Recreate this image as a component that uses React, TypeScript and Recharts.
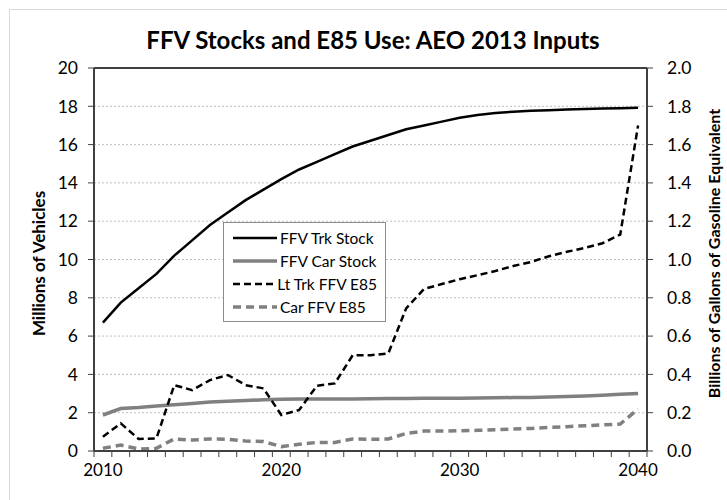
import { LineChart, Line, XAxis, YAxis, CartesianGrid, ReferenceLine, Legend } from 'recharts';

const years = [
    2010, 2011, 2012, 2013, 2014, 2015, 2016, 2017, 2018, 2019,
    2020, 2021, 2022, 2023, 2024, 2025, 2026, 2027, 2028, 2029,
    2030, 2031, 2032, 2033, 2034, 2035, 2036, 2037, 2038, 2039, 2040,
];

// millions of vehicles (left axis)
const trkStock = [
    6.7, 7.75, 8.5, 9.25, 10.2, 11.0, 11.8, 12.45, 13.1, 13.65,
    14.2, 14.7, 15.1, 15.5, 15.9, 16.2, 16.5, 16.8, 17.0, 17.2,
    17.4, 17.55, 17.65, 17.72, 17.77, 17.8, 17.83, 17.86, 17.88, 17.9, 17.92,
];
const carStock = [
    1.88, 2.22, 2.27, 2.35, 2.42, 2.48, 2.56, 2.6, 2.64, 2.67,
    2.7, 2.71, 2.71, 2.72, 2.72, 2.73, 2.74, 2.74, 2.75, 2.75,
    2.76, 2.77, 2.78, 2.79, 2.8, 2.82, 2.84, 2.87, 2.91, 2.96, 3.0,
];

// billions of gallons of gasoline equivalent (right axis)
const trkE85 = [
    0.075, 0.144, 0.063, 0.066, 0.344, 0.318, 0.37, 0.397, 0.344, 0.327,
    0.188, 0.214, 0.341, 0.353, 0.5, 0.5, 0.51, 0.745, 0.846, 0.872,
    0.897, 0.918, 0.94, 0.966, 0.987, 1.017, 1.04, 1.06, 1.085, 1.13, 1.7,
];
const carE85 = [
    0.014, 0.031, 0.01, 0.014, 0.063, 0.057, 0.063, 0.061, 0.052, 0.049,
    0.023, 0.035, 0.045, 0.045, 0.063, 0.061, 0.063, 0.092, 0.104, 0.104,
    0.106, 0.108, 0.111, 0.115, 0.118, 0.123, 0.127, 0.132, 0.136, 0.141, 0.219,
];

const leftTicks = [0, 2, 4, 6, 8, 10, 12, 14, 16, 18, 20];
const rightTicks = [0, 0.2, 0.4, 0.6, 0.8, 1.0, 1.2, 1.4, 1.6, 1.8, 2.0];
const labelYears = [2010, 2020, 2030, 2040];

const data = years.map((year, i) => ({
    year,
    trkStock: trkStock[i],
    carStock: carStock[i],
    trkE85: trkE85[i],
    carE85: carE85[i],
}));

// tick marks sit between categories, like Excel's "between tick marks"
const boundaryTicks = [...years.map(y => y - 0.5), years[years.length - 1] + 0.5];

const FONT = 'Lato, "Open Sans", sans-serif';
const PLOT_LEFT = 94;
const PLOT_RIGHT = 647;
const BAND = (PLOT_RIGHT - PLOT_LEFT) / years.length;
const GRAY = '#808080';
const FRAME = '#404040';

const series = [
    { key: 'trkStock', name: 'FFV Trk Stock', color: '#000', width: 2.5, dash: undefined, axis: 'left' },
    { key: 'carStock', name: 'FFV Car Stock', color: GRAY, width: 3.5, dash: undefined, axis: 'left' },
    { key: 'trkE85', name: 'Lt Trk FFV E85', color: '#000', width: 2.5, dash: '7 4', axis: 'right' },
    { key: 'carE85', name: 'Car FFV E85', color: GRAY, width: 3.5, dash: '8 5', axis: 'right' },
];

function YearTick(props: any) {
    const { x, y, payload } = props;
    const yr = payload.value + 0.5;
    if (!labelYears.includes(yr)) return <g />;
    return (
        <text x={x + BAND / 2} y={y} dy={15} textAnchor="middle" fill="#000" fontSize={17} fontFamily={FONT}>
            {yr}
        </text>
    );
}

function LegendBox() {
    return (
        <div style={{ border: '1px solid #8c8c8c', background: '#fff', padding: '3px 8px 3px 8px', width: 145 }}>
            {series.map(s => (
                <div key={s.key} style={{ display: 'flex', alignItems: 'center', height: 23 }}>
                    <svg width={46} height={10} style={{ marginRight: 2 }}>
                        <line x1={1} y1={5} x2={45} y2={5} stroke={s.color} strokeWidth={s.width} strokeDasharray={s.dash} />
                    </svg>
                    <span style={{ fontFamily: FONT, fontSize: 15.5, color: '#000', whiteSpace: 'nowrap' }}>{s.name}</span>
                </div>
            ))}
        </div>
    );
}

export default function App() {
    return (
        <div style={{ position: 'absolute', left: 0, top: 0, width: 727, height: 500, background: '#fff', overflow: 'hidden' }}>
            <div style={{ position: 'absolute', left: 9, top: 9, right: 0, bottom: 0, borderLeft: '1px solid #d9d9d9', borderTop: '1px solid #d9d9d9' }} />
            <div style={{ position: 'absolute', left: 0, top: 25, width: 746, textAlign: 'center', fontFamily: FONT, fontWeight: 'bold', fontSize: 24, color: '#000' }}>
                FFV Stocks and E85 Use: AEO 2013 Inputs
            </div>
            <div style={{ position: 'absolute', left: 0, top: 0 }}>
                <LineChart width={727} height={500} data={data} margin={{ top: 68, right: 20, bottom: 9, left: 34 }}>
                    <CartesianGrid vertical={false} yAxisId="left" stroke="#bfbfbf" strokeDasharray="2 2" />
                    <XAxis
                        dataKey="year"
                        type="number"
                        domain={[years[0] - 0.5, years[years.length - 1] + 0.5]}
                        ticks={boundaryTicks}
                        interval={0}
                        height={40}
                        tick={<YearTick />}
                        tickSize={6}
                        tickMargin={4}
                        tickLine={{ stroke: FRAME, strokeWidth: 1 }}
                        axisLine={{ stroke: FRAME, strokeWidth: 2 }}
                    />
                    <YAxis
                        yAxisId="left"
                        domain={[0, 20]}
                        ticks={leftTicks}
                        width={60}
                        tickSize={6}
                        tickMargin={10}
                        tick={{ fill: '#000', fontSize: 17.5, fontFamily: FONT }}
                        tickLine={{ stroke: FRAME }}
                        axisLine={{ stroke: FRAME, strokeWidth: 2 }}
                        label={{ value: 'Millions of Vehicles', angle: -90, position: 'insideLeft', dx: 0, dy: 4, style: { textAnchor: 'middle', fontFamily: FONT, fontWeight: 'bold', fontSize: 17, fill: '#000' } }}
                    />
                    <YAxis
                        yAxisId="right"
                        orientation="right"
                        domain={[0, 2]}
                        ticks={rightTicks}
                        width={60}
                        tickSize={6}
                        tickMargin={14}
                        tickFormatter={(v: number) => v.toFixed(1)}
                        tick={{ fill: '#000', fontSize: 17.5, fontFamily: FONT }}
                        tickLine={{ stroke: FRAME }}
                        axisLine={{ stroke: FRAME, strokeWidth: 2 }}
                        label={{ value: 'Billions of Gallons of Gasoline Equivalent', angle: -90, position: 'insideRight', dx: 12, dy: -6, style: { textAnchor: 'middle', fontFamily: FONT, fontWeight: 'bold', fontSize: 16, fill: '#000' } }}
                    />
                    <ReferenceLine yAxisId="left" y={20} stroke={FRAME} strokeWidth={2} />
                    {series.map(s => (
                        <Line
                            key={s.key}
                            yAxisId={s.axis}
                            dataKey={s.key}
                            name={s.name}
                            stroke={s.color}
                            strokeWidth={s.width}
                            strokeDasharray={s.dash}
                            dot={false}
                            activeDot={false}
                            isAnimationActive={false}
                        />
                    ))}
                    <Legend
                        layout="vertical"
                        align="center"
                        verticalAlign="middle"
                        content={() => <LegendBox />}
                        wrapperStyle={{ position: 'absolute', left: 223, top: 222, width: 163, height: 97 }}
                    />
                </LineChart>
            </div>
        </div>
    );
}
